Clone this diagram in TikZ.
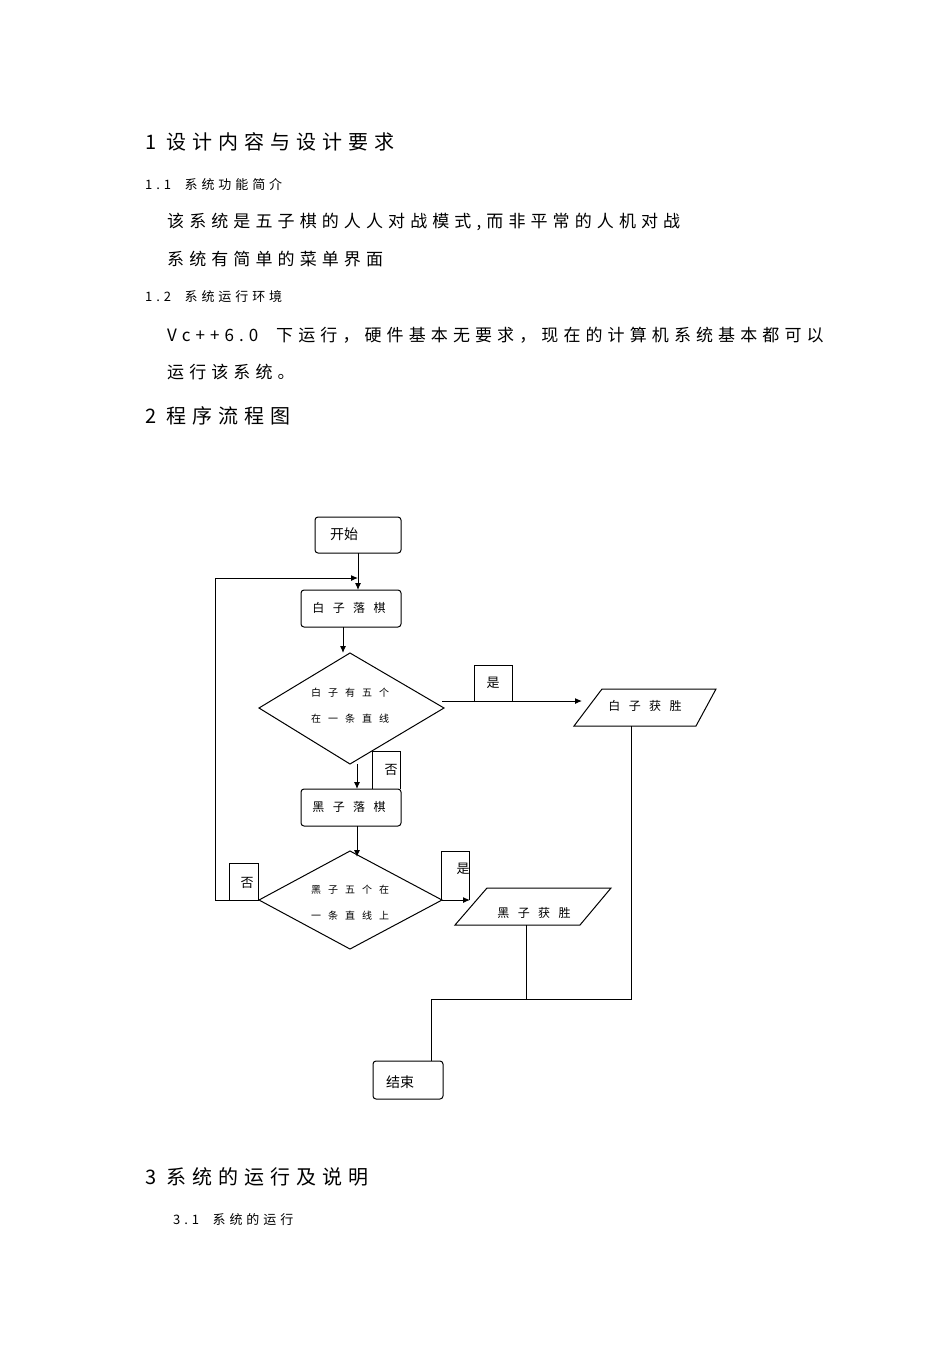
\documentclass[tikz,border=0pt]{standalone}
\usepackage{fontspec}
\setmainfont{Liberation Sans}
\newfontfamily\cjk{Noto Sans CJK SC}
\newfontfamily\cjks[LetterSpace=30]{Noto Sans CJK SC}
\newfontfamily\cjkw[LetterSpace=70]{Noto Sans CJK SC}
\usetikzlibrary{arrows.meta}
\begin{document}
\begin{tikzpicture}[x=1pt,y=-1pt,
  box/.style={draw,thick,rounded corners=3pt,line width=1pt},
  lbl/.style={draw,line width=1pt},
  arr/.style={line width=1pt,-{Latex[length=7pt,width=6pt]}},
  ln/.style={line width=1pt},
  txt/.style={anchor=west,inner sep=0pt}]
\useasboundingbox (0,0) rectangle (950,1345);
% document text
\node[txt,font=\fontsize{20}{24}\selectfont\cjks] (h1) at (145,142) {1 设计内容与设计要求};
\node[txt,font=\fontsize{13}{16}\selectfont\cjks] (h11) at (145,185) {1.1\ \ 系统功能简介};
\node[txt,font=\fontsize{17}{20}\selectfont\cjks] (p1) at (167,222) {该系统是五子棋的人人对战模式,而非平常的人机对战};
\node[txt,font=\fontsize{17}{20}\selectfont\cjks] (p2) at (167,259) {系统有简单的菜单界面};
\node[txt,font=\fontsize{13}{16}\selectfont\cjks] (h12) at (145,297) {1.2\ \ 系统运行环境};
\node[txt,font=\fontsize{17}{20}\selectfont\cjks] (p3) at (167,335) {Vc++6.0\ \ 下运行，硬件基本无要求，现在的计算机系统基本都可以};
\node[txt,font=\fontsize{17}{20}\selectfont\cjks] (p4) at (167,372) {运行该系统。};
\node[txt,font=\fontsize{20}{24}\selectfont\cjks] (h2) at (145,416) {2 程序流程图};
\node[txt,font=\fontsize{20}{24}\selectfont\cjks] (h3) at (145,1177) {3 系统的运行及说明};
\node[txt,font=\fontsize{13}{16}\selectfont\cjks] (h31) at (173,1220) {3.1\ \ 系统的运行};
% flowchart
\draw[box] (315,517) rectangle (401,553);
\node[txt,font=\fontsize{14}{16}\selectfont\cjk] (start) at (330,534) {开始};
\coordinate (startb) at (358,553);
\draw[box] (301,590) rectangle (401,627);
\node[font=\fontsize{12}{14}\selectfont\cjkw] (w) at (349,608) {白子落棋};
\draw[ln] (215,900) -- (215,578) coordinate (lp);
\draw[arr] (startb) -- (358,590);
\draw[arr] (lp) -- (358,578);
\draw[ln] (350,653) coordinate (d1t) -- (444,708) coordinate (d1r) -- (350,764) coordinate (d1b) -- (259,708) coordinate (d1l) -- cycle;
\node[font=\fontsize{10}{26}\selectfont\cjkw,align=left] (d1) at (350,706) {白子有五个\\在一条直线};
\draw[arr] (343,627) -- (343,653);
\draw[lbl] (474,702) -- (474,665) -- (512,665) -- (512,702);
\node[font=\fontsize{13}{16}\selectfont\cjk] (y1) at (493,683) {是};
\draw[arr] (d1r) ++(-2,-7) -- (582,701);
\draw[ln] (602,689) -- (716,689) -- (696,726) -- (574,726) -- cycle;
\node[font=\fontsize{12}{14}\selectfont\cjkw] (ww) at (645,706) {白子获胜};
\draw[lbl] (372,789) -- (372,751) -- (400,751) -- (400,789);
\node[font=\fontsize{13}{16}\selectfont\cjk] (n1) at (391,770) {否};
\draw[arr] (357,764) -- (357,789);
\draw[box] (301,789) rectangle (401,826);
\node[font=\fontsize{12}{14}\selectfont\cjkw] (b) at (349,807) {黑子落棋};
\draw[ln] (350,851) coordinate (d2t) -- (442,900) coordinate (d2r) -- (350,949) -- (259,900) coordinate (d2l) -- cycle;
\node[font=\fontsize{10}{26}\selectfont\cjkw,align=left] (d2) at (350,903) {黑子五个在\\一条直线上};
\draw[arr] (357,826) -- (357,857);
\draw[lbl] (229,900) -- (229,863) -- (258,863) -- (258,900);
\node[font=\fontsize{13}{16}\selectfont\cjk] (n2) at (247,883) {否};
\draw[ln] (d2l) -- (215,900);
\draw[lbl] (441,900) -- (441,851) -- (469,851) -- (469,900);
\node[font=\fontsize{13}{16}\selectfont\cjk] (y2) at (463,869) {是};
\draw[arr] (d2r) -- (470,900);
\draw[ln] (487,888) -- (611,888) -- (580,925) -- (455,925) -- cycle;
\node[font=\fontsize{12}{14}\selectfont\cjkw] (bw) at (534,913) {黑子获胜};
\draw[ln] (526,925) -- (526,999);
\draw[ln] (631,726) -- (631,999) -- (431,999) -- (431,1061);
\draw[box] (373,1061) rectangle (443,1099);
\node[txt,font=\fontsize{14}{16}\selectfont\cjk] (end) at (386,1082) {结束};
\end{tikzpicture}
\end{document}
